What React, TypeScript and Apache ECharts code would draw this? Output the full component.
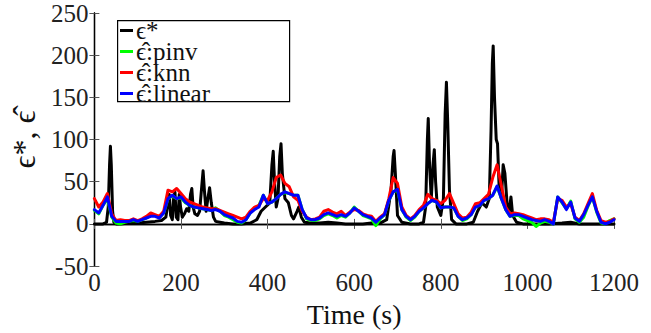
import React, { useEffect, useRef } from "react";
import * as echarts from "echarts";

// time stamps (s) for the estimated series, one every 10 s
const estTimes: number[] = Array.from({ length: 121 }, (_, i) => i * 10);

// true epsilon* : [time, value]
const trueEps: [number, number][] = [
  [0, 0], [10, 0], [20, 0], [28, 2], [32, 20], [35, 70], [37, 92], [39, 70], [42, 15], [45, 2], [50, 0], [60, 0],
  [80, 1], [100, 1], [120, 2], [140, 3], [155, 4], [165, 8], [170, 25], [173, 35], [176, 10], [180, 5], [183, 30],
  [186, 38], [189, 8], [193, 5], [196, 35], [199, 20], [203, 8], [208, 12], [213, 18], [218, 15], [222, 35], [225, 42],
  [228, 20], [232, 12], [238, 10], [243, 15], [248, 45], [251, 63], [254, 40], [258, 15], [262, 30], [266, 43],
  [270, 25], [275, 8], [280, 3], [290, 2], [300, 1], [320, 0], [340, 0], [360, 1], [375, 5], [385, 15], [395, 20],
  [405, 25], [410, 70], [413, 86], [416, 50], [420, 20], [424, 30], [428, 80], [431, 95], [434, 60], [440, 30],
  [448, 25], [455, 10], [460, 6], [468, 15], [472, 20], [478, 8], [485, 2], [500, 1], [520, 1], [540, 2], [560, 1],
  [580, 0], [600, 0], [620, 0], [640, 1], [660, 1], [675, 5], [685, 40], [690, 80], [692, 87], [695, 60], [700, 10],
  [710, 2], [730, 0], [750, 0], [760, 2], [765, 20], [769, 100], [771, 125], [774, 70], [778, 30], [782, 70],
  [785, 88], [788, 50], [792, 20], [800, 10], [806, 30], [810, 130], [813, 168], [816, 120], [820, 40], [825, 5],
  [835, 0], [860, 0], [875, 2], [885, 15], [895, 25], [905, 20], [912, 30], [916, 110], [919, 190], [921, 211],
  [924, 150], [928, 100], [931, 95], [935, 40], [940, 30], [944, 70], [948, 60], [953, 25], [958, 15], [962, 32],
  [966, 10], [975, 2], [990, 0], [1050, 0], [1080, 1], [1100, 2], [1120, 0], [1200, 0],
];

const pinvEps: number[] = [
  16, 12, 22, 30, 8, 1, 0, 2, 3, 4, 3, 5, 7, 10, 10, 8, 13, 30, 33, 30, 31, 25, 22, 20, 19, 18, 17, 16, 19, 15, 10,
  8, 5, 2, 1, 5, 13, 18, 22, 34, 24, 26, 30, 35, 37, 36, 34, 34, 17, 6, 4, 4, 6, 10, 12, 10, 7, 10, 8, 13, 20, 15,
  10, 8, 6, -2, 6, 11, 28, 38, 40, 17, 8, 4, 8, 15, 19, 24, 28, 26, 19, 20, 20, 19, 9, 4, 6, 11, 20, 22, 28, 30, 34,
  44, 30, 17, 9, 10, 10, 6, 4, 2, -3, 1, 3, 2, 0, 32, 25, 18, 27, 6, 2, 8, 21, 32, 14, 1, 0, 4, 6,
];

const knnEps: number[] = [
  30, 20, 26, 36, 12, 4, 5, 4, 4, 6, 4, 6, 9, 13, 11, 9, 15, 40, 38, 42, 36, 30, 26, 24, 22, 20, 19, 18, 18, 16, 14,
  12, 10, 8, 6, 8, 15, 20, 22, 30, 28, 38, 55, 58, 48, 44, 32, 28, 15, 8, 5, 6, 8, 15, 17, 14, 12, 15, 10, 14, 17,
  16, 12, 10, 9, 3, 8, 12, 30, 55, 48, 20, 10, 6, 10, 17, 22, 35, 30, 28, 24, 28, 36, 24, 12, 7, 8, 14, 24, 25, 30,
  35, 55, 70, 45, 20, 12, 13, 12, 11, 9, 7, 5, 6, 6, 5, 2, 30, 28, 20, 24, 8, 4, 12, 24, 36, 16, 4, 2, 3, 6,
];

const linearEps: number[] = [
  17, 13, 22, 32, 9, 3, 3, 3, 3, 5, 3, 5, 7, 9, 9, 7, 13, 30, 34, 30, 32, 26, 22, 20, 19, 18, 17, 16, 17, 15, 11,
  9, 7, 3, 2, 5, 13, 17, 20, 34, 24, 26, 30, 35, 38, 36, 34, 34, 17, 7, 5, 5, 7, 11, 13, 11, 9, 11, 9, 13, 19, 15,
  11, 9, 7, 2, 7, 11, 28, 38, 41, 17, 9, 5, 9, 15, 19, 24, 28, 26, 19, 20, 20, 19, 9, 5, 7, 11, 20, 22, 28, 30, 34,
  45, 30, 17, 9, 11, 11, 9, 7, 5, 4, 3, 5, 3, 0, 32, 26, 17, 26, 7, 3, 11, 22, 32, 15, 2, 0, 2, 5,
];

const xTicks = { min: 0, max: 1200, interval: 200 };
const yTicks = { min: -50, max: 250, interval: 50 };

const seriesNames = ["ϵ*", "ϵ̂:pinv", "ϵ̂:knn", "ϵ̂:linear"];
const seriesColors = ["#000000", "#00ff00", "#ff0000", "#0000ff"];

const FONT = "Liberation Serif";

export default function App() {
  const ref = useRef<HTMLDivElement>(null);
  useEffect(() => {
    if (!ref.current) return;
    const chart = echarts.init(ref.current, undefined, { renderer: "svg" });
    const pair = (vals: number[]) => estTimes.map((t, i) => [t, vals[i]]);
    const tick = { show: true, inside: true, length: 5, lineStyle: { color: "#555", width: 1 } };
    const axisLine = { show: true, lineStyle: { color: "#000", width: 1.3 } };
    const label = {
      fontFamily: FONT,
      fontSize: 25,
      color: "#222",
      formatter: (v: number) => String(v),
    };
    const lineSeries = (i: number, data: any) => ({
      name: seriesNames[i],
      type: "line",
      data,
      showSymbol: false,
      symbol: "none",
      lineStyle: { color: seriesColors[i], width: 3, join: "round", cap: "round" },
      itemStyle: { color: seriesColors[i] },
      z: 2 + i,
    });
    chart.setOption({
      animation: false,
      backgroundColor: "#ffffff",
      textStyle: { fontFamily: FONT },
      grid: { left: 90, right: 37, top: 13, bottom: 56, containLabel: false, show: false },
      xAxis: [
        {
          type: "value",
          ...xTicks,
          position: "bottom",
          axisLine,
          axisTick: tick,
          splitLine: { show: false },
          axisLabel: { ...label, margin: 4 },
          name: "Time (s)",
          nameLocation: "middle",
          nameGap: 20,
          nameTextStyle: { fontFamily: FONT, fontSize: 28, color: "#111" },
        },
        {
          type: "value",
          ...xTicks,
          position: "top",
          axisLine,
          axisTick: tick,
          splitLine: { show: false },
          axisLabel: { show: false },
        },
      ],
      yAxis: [
        {
          type: "value",
          ...yTicks,
          position: "left",
          axisLine,
          axisTick: tick,
          splitLine: { show: false },
          axisLabel: { ...label, margin: 6 },
          name: "ϵ*, ϵ̂",
          nameLocation: "middle",
          nameGap: 33,
          nameRotate: 90,
          nameTextStyle: { fontFamily: FONT, fontSize: 32, color: "#111" },
        },
        {
          type: "value",
          ...yTicks,
          position: "right",
          axisLine,
          axisTick: tick,
          splitLine: { show: false },
          axisLabel: { show: false },
        },
      ],
      legend: {
        orient: "vertical",
        left: 117,
        top: 18,
        padding: [0, 3],
        itemGap: -4,
        itemWidth: 13,
        itemHeight: 3,
        icon: "rect",
        data: seriesNames,
        textStyle: { fontFamily: FONT, fontSize: 25, lineHeight: 20, color: "#111", padding: [0, 0, 0, -2] },
        z: 10,
      },
      graphic: [
        {
          type: "rect",
          left: 117,
          top: 20,
          z: 9,
          shape: { width: 172, height: 81 },
          style: { fill: "#fff", stroke: "#000", lineWidth: 1.2 },
        },
      ],
      series: [
        lineSeries(0, trueEps),
        lineSeries(1, pair(pinvEps)),
        lineSeries(2, pair(knnEps)),
        lineSeries(3, pair(linearEps)),
      ],
    });
    return () => chart.dispose();
  }, []);
  return <div ref={ref} style={{ position: "absolute", left: 0, top: 0, width: 651, height: 333 }} />;
}
